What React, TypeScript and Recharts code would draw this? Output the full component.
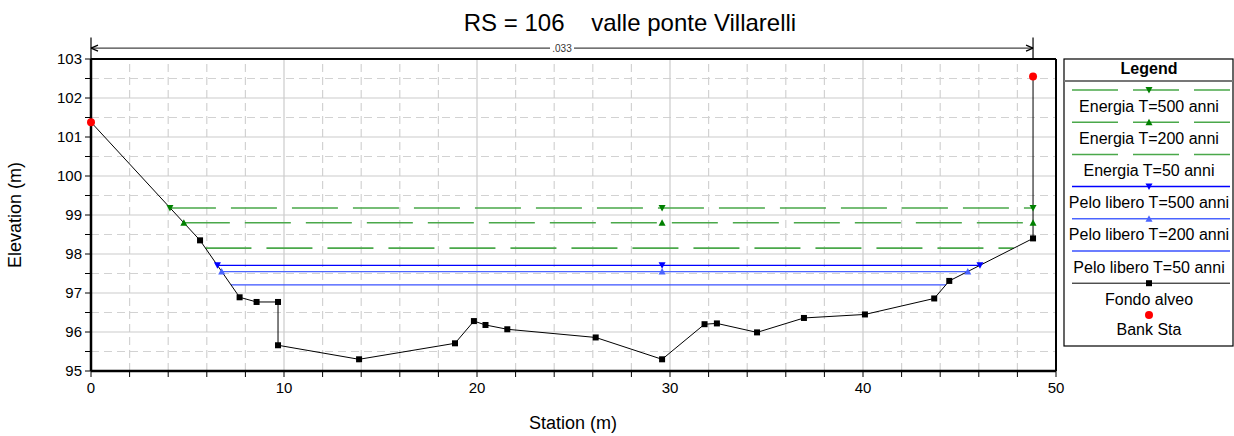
import React from 'react'
import {
  ComposedChart,
  Line,
  XAxis,
  YAxis,
  ReferenceLine,
  Customized,
} from 'recharts'

// ground profile (Fondo alveo)
const groundStation = [0, 5.65, 7.7, 8.58, 9.69, 9.69, 13.89, 18.86, 19.84, 20.44, 21.57, 26.15, 29.59, 31.79, 32.43, 34.51, 36.94, 40.1, 43.69, 44.47, 48.81, 48.81]
const groundElev = [101.38, 98.35, 96.89, 96.77, 96.77, 95.66, 95.3, 95.71, 96.28, 96.18, 96.07, 95.86, 95.3, 96.2, 96.22, 95.99, 96.36, 96.45, 96.86, 97.31, 98.4, 102.55]

// bank stations
const bankStation = [0, 48.81]
const bankElev = [101.38, 102.55]

// energy lines T=500, T=200, T=50
const energyElev = [99.18, 98.8, 98.15]
const energyLeft = [4.09, 4.81, 5.93]
const energyRight = [48.81, 48.81, 47.81]

// water surface (pelo libero) T=500, T=200, T=50
const wsElev = [97.71, 97.55, 97.21]
const wsLeft = [6.55, 6.77, 7.25]
const wsRight = [46.06, 45.43, 44.3]

const markerStation = 29.59
const manningN = '.033'

const xTicks = [0, 2, 4, 6, 8, 10, 12, 14, 16, 18, 20, 22, 24, 26, 28, 30, 32, 34, 36, 38, 40, 42, 44, 46, 48, 50]
const yTicks = [95, 95.5, 96, 96.5, 97, 97.5, 98, 98.5, 99, 99.5, 100, 100.5, 101, 101.5, 102, 102.5, 103]

const FONT = '"Liberation Sans", Arial, sans-serif'
const GREEN = '#4aa84a'
const GREEN_MARK = '#008000'
const BLUE = ['#0000ff', '#4a64ff', '#3a52ff']

const ground = groundStation.map((x, i) => ({ x, y: groundElev[i] }))
const banks = bankStation.map((x, i) => ({ x, y: bankElev[i] }))
const levelLine = (left: number, right: number, y: number, mid: boolean) =>
  mid
    ? [{ x: left, y }, { x: markerStation, y }, { x: right, y }]
    : [{ x: left, y }, { x: right, y }]

const triangle = (cx: number, cy: number, down: boolean, color: string, key?: string) => {
  const d = down
    ? `M${cx - 3.5},${cy - 3} L${cx + 3.5},${cy - 3} L${cx},${cy + 3.5} Z`
    : `M${cx - 3.5},${cy + 3} L${cx + 3.5},${cy + 3} L${cx},${cy - 3.5} Z`
  return <path key={key} d={d} fill={color} stroke="none" />
}

const triDot = (down: boolean, color: string) => (p: any) =>
  triangle(p.cx, p.cy, down, color, `t-${p.index}`)

const squareDot = (p: any) => {
  if (p.index === 0 || p.index === groundStation.length - 1) return <g key={`s-${p.index}`} />
  return <rect key={`s-${p.index}`} x={p.cx - 3} y={p.cy - 3} width={6} height={6} fill="#000" />
}

const bankDot = (p: any) => <circle key={`b-${p.index}`} cx={p.cx} cy={p.cy} r={4} fill="#ff0000" />

const legendItems = [
  { label: 'Energia T=500 anni', kind: 'energy', marker: 'down' },
  { label: 'Energia T=200 anni', kind: 'energy', marker: 'up' },
  { label: 'Energia T=50 anni', kind: 'energy', marker: '' },
  { label: 'Pelo libero T=500 anni', kind: 'ws0', marker: 'down' },
  { label: 'Pelo libero T=200 anni', kind: 'ws1', marker: 'up' },
  { label: 'Pelo libero T=50 anni', kind: 'ws2', marker: '' },
  { label: 'Fondo alveo', kind: 'ground', marker: 'square' },
]

function Decorations() {
  const lx1 = 1072
  const lx2 = 1230
  const cx = 1149
  return (
    <g fontFamily={FONT}>
      <text x={630} y={31} textAnchor="middle" fontSize={24} fill="#000">
        {'RS = 106\u00a0\u00a0\u00a0 valle ponte Villarelli'}
      </text>
      <text x={573} y={429} textAnchor="middle" fontSize={18} fill="#000">
        Station (m)
      </text>
      <text x={21} y={215} textAnchor="middle" fontSize={18} fill="#000" transform="rotate(-90 21 215)">
        Elevation (m)
      </text>
      <rect x={1064} y={59} width={169} height={287} fill="#fff" stroke="#000" strokeWidth={1.2} />
      <text x={cx} y={74} textAnchor="middle" fontSize={16} fontWeight="bold" fill="#000">
        Legend
      </text>
      <line x1={1064} x2={1233} y1={81} y2={81} stroke="#777" strokeWidth={2} />
      {legendItems.map((it, i) => {
        const y = 90 + i * 32.2
        let color = '#000'
        if (it.kind === 'energy') color = GREEN
        if (it.kind.startsWith('ws')) color = BLUE[Number(it.kind.slice(2))]
        const markColor = it.kind === 'energy' ? GREEN_MARK : color
        return (
          <g key={it.label}>
            <line
              x1={lx1}
              x2={lx2}
              y1={y}
              y2={y}
              stroke={color}
              strokeWidth={it.kind === 'ground' ? 1 : 1.5}
              strokeDasharray={it.kind === 'energy' ? '46 15' : undefined}
            />
            {it.marker === 'down' && triangle(cx, y, true, markColor)}
            {it.marker === 'up' && triangle(cx, y, false, markColor)}
            {it.marker === 'square' && <rect x={cx - 3} y={y - 3} width={6} height={6} fill="#000" />}
            <text x={cx} y={y + 21.5} textAnchor="middle" fontSize={16} fill="#000">
              {it.label}
            </text>
          </g>
        )
      })}
      <circle cx={cx} cy={315} r={4} fill="#ff0000" />
      <text x={cx} y={334.5} textAnchor="middle" fontSize={16} fill="#000">
        Bank Sta
      </text>
    </g>
  )
}

const dimElev = 103.28
const dimShape = (p: any) => {
  const { x1, y1, x2 } = p
  const mid = (x1 + x2) / 2
  return (
    <g>
      <line x1={x1} x2={x2} y1={y1} y2={y1} stroke="#444" strokeWidth={1.2} />
      <path d={`M${x1},${y1} L${x1 + 7},${y1 - 3} M${x1},${y1} L${x1 + 7},${y1 + 3}`} stroke="#000" strokeWidth={1.2} />
      <path d={`M${x2},${y1} L${x2 - 7},${y1 - 3} M${x2},${y1} L${x2 - 7},${y1 + 3}`} stroke="#000" strokeWidth={1.2} />
      <rect x={mid - 12} y={y1 - 6} width={24} height={12} fill="#fff" />
      <text x={mid} y={y1 + 3.5} textAnchor="middle" fontSize={10} fontFamily={FONT} fill="#333">
        {manningN}
      </text>
    </g>
  )
}

export default function App() {
  const xMinor = xTicks.filter((v) => v % 10 !== 0)
  const xMajor = xTicks.filter((v) => v % 10 === 0 && v > 0 && v < 50)
  const yMinor = yTicks.filter((v) => v % 1 !== 0)
  const yMajor = yTicks.filter((v) => v % 1 === 0 && v > 95 && v < 103)
  return (
    <div style={{ position: 'absolute', left: 0, top: 0, width: 1234, height: 436, background: '#fff' }}>
      <ComposedChart width={1234} height={436} margin={{ top: 59, right: 178, bottom: 35, left: 51 }}>
        <XAxis
          dataKey="x"
          type="number"
          domain={[0, 50]}
          ticks={xTicks}
          interval={0}
          tickFormatter={(v) => (v % 10 === 0 ? `${v}` : '')}
          tick={{ fill: '#000', fontSize: 15, fontFamily: FONT }}
          tickLine={{ stroke: '#000' }}
          tickSize={6}
          tickMargin={5}
          axisLine={{ stroke: '#000', strokeWidth: 2.5 }}
          height={30}
        />
        <YAxis
          dataKey="y"
          type="number"
          domain={[95, 103]}
          ticks={yTicks}
          interval={0}
          tickFormatter={(v) => (v % 1 === 0 ? `${v}` : '')}
          tick={{ fill: '#000', fontSize: 15, fontFamily: FONT }}
          tickLine={{ stroke: '#000' }}
          tickSize={6}
          tickMargin={3}
          axisLine={{ stroke: '#000', strokeWidth: 2.5 }}
          width={40}
        />
        {xMinor.map((v) => (
          <ReferenceLine key={`xm${v}`} x={v} stroke="#d2d2d2" strokeWidth={1.2} strokeDasharray="8 5" />
        ))}
        {yMinor.map((v) => (
          <ReferenceLine key={`ym${v}`} y={v} stroke="#d2d2d2" strokeWidth={1.2} strokeDasharray="8 5" />
        ))}
        {xMajor.map((v) => (
          <ReferenceLine key={`xM${v}`} x={v} stroke="#cccccc" strokeWidth={1.2} />
        ))}
        {yMajor.map((v) => (
          <ReferenceLine key={`yM${v}`} y={v} stroke="#cccccc" strokeWidth={1.2} />
        ))}
        <ReferenceLine y={103} stroke="#000" strokeWidth={2} />
        <ReferenceLine x={50} stroke="#000" strokeWidth={2} />
        <ReferenceLine
          segment={[{ x: 0, y: dimElev }, { x: bankStation[1], y: dimElev }]}
          ifOverflow="visible"
          shape={dimShape}
        />
        <ReferenceLine
          segment={[{ x: 0, y: 103 }, { x: 0, y: 103.55 }]}
          ifOverflow="visible"
          stroke="#000"
          strokeWidth={1.2}
        />
        <ReferenceLine
          segment={[{ x: bankStation[1], y: 103 }, { x: bankStation[1], y: 103.55 }]}
          ifOverflow="visible"
          stroke="#000"
          strokeWidth={1.2}
        />
        {energyElev.map((e, i) => (
          <Line
            key={`en${i}`}
            data={levelLine(energyLeft[i], energyRight[i], e, i < 2)}
            dataKey="y"
            type="linear"
            stroke={GREEN}
            strokeWidth={1.6}
            strokeDasharray="46 15"
            dot={i < 2 ? triDot(i === 0, GREEN_MARK) : false}
            activeDot={false}
            isAnimationActive={false}
          />
        ))}
        {wsElev.map((e, i) => (
          <Line
            key={`ws${i}`}
            data={levelLine(wsLeft[i], wsRight[i], e, i < 2)}
            dataKey="y"
            type="linear"
            stroke={BLUE[i]}
            strokeWidth={1.3}
            dot={i < 2 ? triDot(i === 0, BLUE[i]) : false}
            activeDot={false}
            isAnimationActive={false}
          />
        ))}
        <Line
          data={ground}
          dataKey="y"
          type="linear"
          stroke="#000"
          strokeWidth={1}
          dot={squareDot}
          activeDot={false}
          isAnimationActive={false}
        />
        <Line
          data={banks}
          dataKey="y"
          type="linear"
          stroke="none"
          dot={bankDot}
          activeDot={false}
          isAnimationActive={false}
        />
        <Customized component={Decorations} />
      </ComposedChart>
    </div>
  )
}
